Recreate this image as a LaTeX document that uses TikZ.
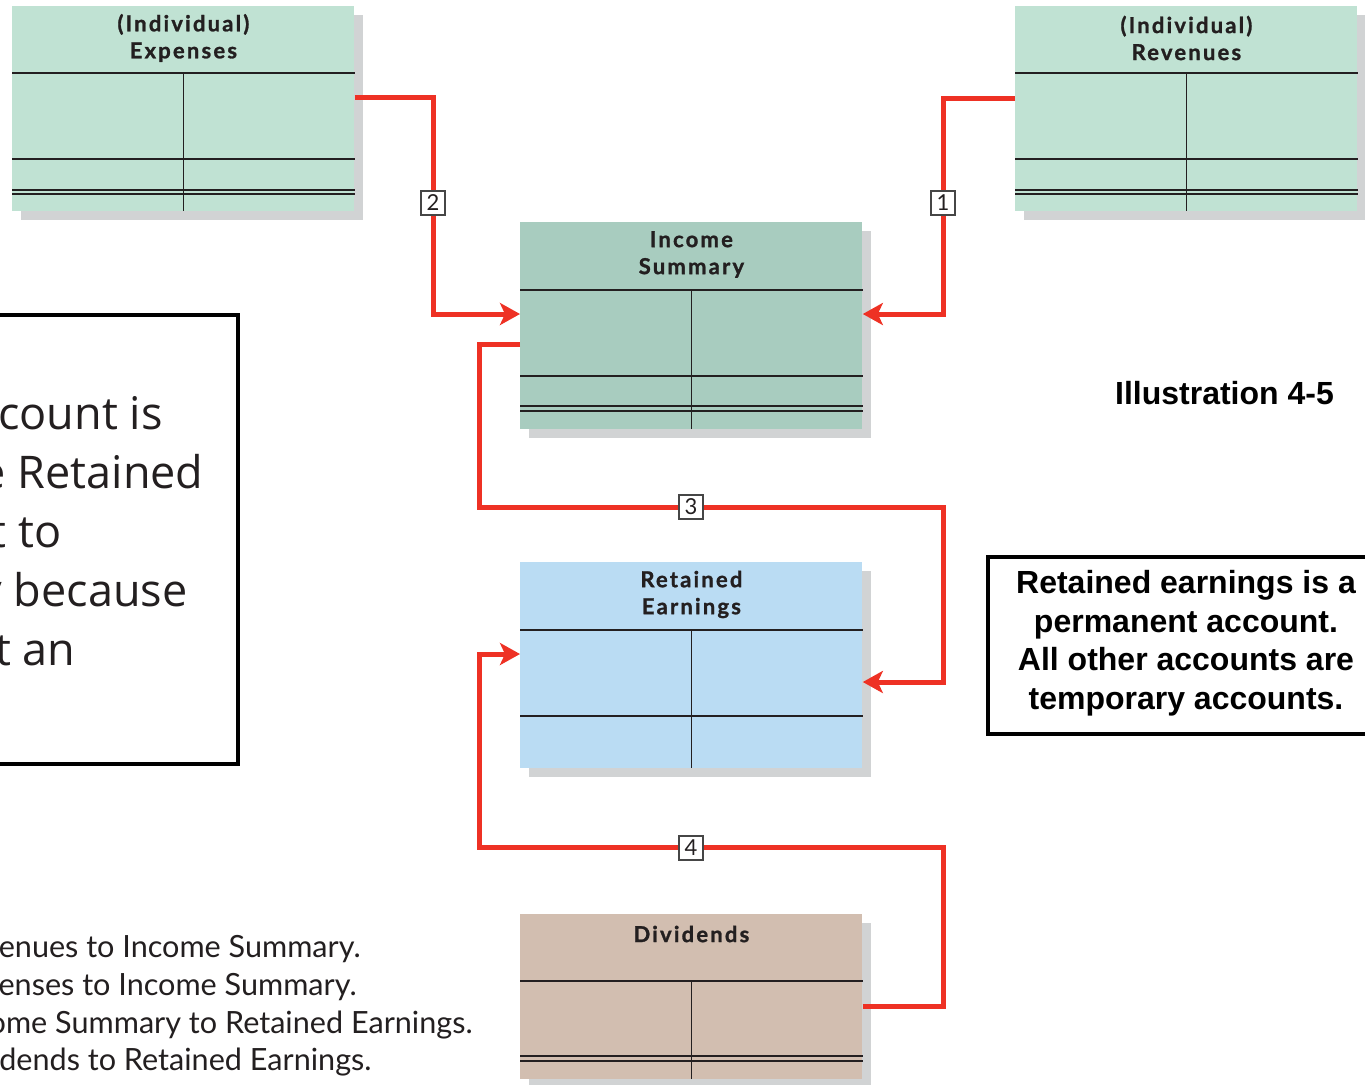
\documentclass[tikz,border=0pt]{standalone}
\usepackage{fontspec}
\setmainfont{Lato}
\newfontfamily\titlefont[LetterSpace=10,FakeBold=1.2]{Lato Bold}
\newfontfamily\notefont{Open Sans}
\newfontfamily\arialfont{Liberation Sans}
\usetikzlibrary{arrows.meta,calc}
\definecolor{redc}{RGB}{238,49,36}
\definecolor{expc}{RGB}{192,226,211}
\definecolor{incc}{RGB}{168,204,191}
\definecolor{retc}{RGB}{186,220,243}
\definecolor{divc}{RGB}{210,190,176}
\definecolor{shadowc}{RGB}{209,211,212}
\definecolor{rulec}{RGB}{35,31,32}
\definecolor{numc}{RGB}{70,70,70}
\definecolor{textc}{RGB}{35,31,32}
\newcommand{\acctbox}[6]{%
  \fill[shadowc] (#2+9,#3+9) rectangle ++(#4,#5);
  \node[acct,fill=#6,minimum width=#4*0.5pt,minimum height=#5*0.5pt] (#1) at (#2,#3) {};
}
\newcommand{\acctrule}[2]{%
  \draw[rule] ($(#1.north west)+(0,#2)$) -- ($(#1.north east)+(0,#2)$);
}
\newcommand{\acctsplit}[2]{%
  \draw[rule] ($(#1.north)+(0,#2)$) -- ($(#1.south)+(0,-1)$);
}
\begin{document}
\begin{tikzpicture}[x=0.5pt,y=-0.5pt,
  acct/.style={draw=none,inner sep=0,anchor=north west},
  rule/.style={draw=rulec,line width=0.7pt},
  flow/.style={draw=redc,line width=2.5pt,-{Stealth[length=10pt,width=11pt,inset=2.5pt]}},
  stepnum/.style={draw=numc,fill=white,line width=0.7pt,minimum size=12pt,inner sep=0,text=textc,font=\fontsize{11}{11}\selectfont},
  title/.style={font=\titlefont\fontsize{11}{13.5}\selectfont,align=center,text=textc},
  notetext/.style={anchor=base east,inner sep=0,text=textc,font=\notefont\fontsize{22.5}{25}\selectfont},
  legend/.style={anchor=base east,inner sep=0,text=textc,font=\fontsize{15.3}{17}\selectfont},
  arialbold/.style={font=\arialfont\bfseries\fontsize{16}{19.25}\selectfont,text=black},
]
\useasboundingbox (0,0) rectangle (1365,1084);
\clip (0,0) rectangle (1365,1084);
\fill[white] (0,0) rectangle (1365,1084);

% accounts
\acctbox{exp}{12}{6}{342}{205}{expc}
\acctrule{exp}{67}\acctrule{exp}{153}\acctrule{exp}{184}\acctrule{exp}{188}\acctsplit{exp}{67}
\node[title] (exptitle) at ($(exp.north)+(0,32)$) {(Individual)\\Expenses};

\acctbox{rev}{1015}{6}{342}{205}{expc}
\acctrule{rev}{67}\acctrule{rev}{153}\acctrule{rev}{184}\acctrule{rev}{188}\acctsplit{rev}{67}
\node[title] (revtitle) at ($(rev.north)+(0,32)$) {(Individual)\\Revenues};

\acctbox{inc}{520}{222}{342}{207}{incc}
\acctrule{inc}{68}\acctrule{inc}{154}\acctrule{inc}{184}\acctrule{inc}{189}\acctsplit{inc}{68}
\node[title] (inctitle) at ($(inc.north)+(0,32.5)$) {Income\\Summary};

\acctbox{ret}{520}{562}{342}{206}{retc}
\acctrule{ret}{68}\acctrule{ret}{154}\acctsplit{ret}{68}
\node[title] (rettitle) at ($(ret.north)+(0,32.5)$) {Retained\\Earnings};

\acctbox{div}{520}{914}{342}{165}{divc}
\acctrule{div}{67}\acctrule{div}{142}\acctrule{div}{147}\acctsplit{div}{67}
\node[title] (divtitle) at ($(div.north)+(0,20)$) {Dividends};

% connector points
\coordinate (e2) at ($(exp.north east)+(0,91)$);
\coordinate (i2) at ($(inc.north west)+(0,92)$);
\coordinate (c2) at (433,203);
\coordinate (r1) at ($(rev.north west)+(0,92)$);
\coordinate (i1) at ($(inc.north east)+(0,92)$);
\coordinate (c1) at (943,203);
\coordinate (i3) at ($(inc.north west)+(0,122)$);
\coordinate (w3) at (479,507);
\coordinate (e3) at (943,682);
\coordinate (r3) at ($(ret.north east)+(0,120)$);
\coordinate (d4) at ($(div.north east)+(0,92)$);
\coordinate (e4) at (943,847);
\coordinate (w4) at (479,654);
\coordinate (r4) at ($(ret.north west)+(0,92)$);

\draw[flow] (e2) -| (c2 |- i2) -- (i2);
\draw[flow] (r1) -| (c1 |- i1) -- (i1);
\draw[flow] (i3) -| (w3) -| (e3) -- (r3);
\draw[flow] (d4) -| (e4) -| (w4) -- (r4);

\node[stepnum] (n2) at (c2) {2};
\node[stepnum] (n1) at (c1) {1};
\node[stepnum] (n3) at (691,507) {3};
\node[stepnum] (n4) at (691,848) {4};

% left note box
\node[draw=black,line width=2pt,anchor=north west,inner sep=0,minimum width=256*0.5pt,minimum height=449*0.5pt] (note) at (-20,313) {};
\node[notetext] (nl1) at (163,429) {count is};
\node[notetext] (nl2) at (204,488) {e Retained};
\node[notetext] (nl3) at (62,547) {t to};
\node[notetext] (nl4) at (188,606) {y because};
\node[notetext] (nl5) at (76,665) {t an};

% legend
\node[legend] (lg1) at (361,957) {enues to Income Summary.};
\node[legend] (lg2) at (357,995) {enses to Income Summary.};
\node[legend] (lg3) at (473,1033) {ome Summary to Retained Earnings.};
\node[legend] (lg4) at (372,1070) {dends to Retained Earnings.};

% right side
\node[arialbold] (illus) at (1224.5,393) {Illustration 4-5};
\node[draw=black,line width=2pt,anchor=north west,inner sep=0,minimum width=400*0.5pt,minimum height=177*0.5pt] (perm) at (986,555) {};
\node[arialbold,align=center] (permtext) at (1186,643) {Retained earnings is a\\permanent account.\\All other accounts are\\temporary accounts.};
\end{tikzpicture}
\end{document}
